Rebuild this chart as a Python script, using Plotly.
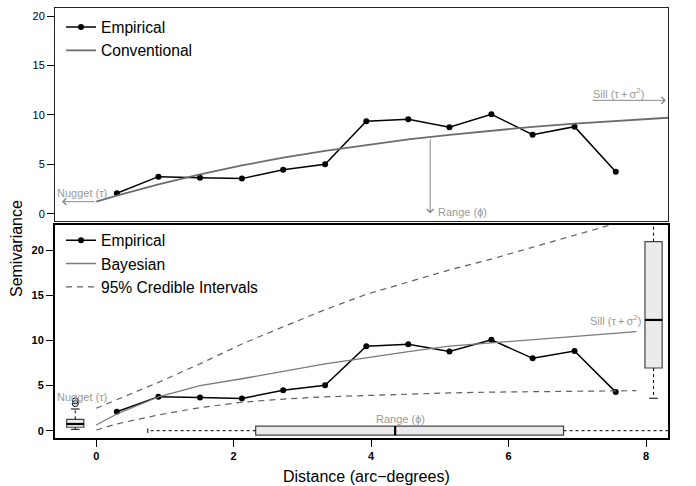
import plotly.graph_objects as go

# ---------------- data ----------------
dist = [0.30, 0.905, 1.51, 2.12, 2.72, 3.33, 3.93, 4.54, 5.14, 5.75, 6.35, 6.96, 7.56]
emp = [2.09, 3.77, 3.67, 3.57, 4.47, 5.02, 9.36, 9.56, 8.76, 10.07, 8.01, 8.82, 4.27]

conv_x = [0, 0.30, 0.905, 1.51, 2.12, 2.72, 3.33, 3.93, 4.54, 5.14, 5.75, 6.35, 6.96, 7.56, 8.5]
conv_y = [1.24, 1.86, 3.00, 4.01, 4.90, 5.68, 6.38, 6.98, 7.53, 8.00, 8.43, 8.80, 9.13, 9.41, 9.80]

bayes_x = [0, 0.30, 0.905, 1.51, 2.12, 2.72, 3.33, 3.93, 4.54, 5.14, 5.75, 6.35, 6.96, 7.56, 7.86]
bayes_y = [0.63, 1.85, 3.75, 4.98, 5.75, 6.60, 7.40, 8.05, 8.76, 9.36, 9.72, 10.07, 10.43, 10.78, 10.96]
ci_upper = [2.48, 3.45, 5.35, 7.40, 9.60, 11.5, 13.4, 15.1, 16.5, 17.8, 19.0, 20.3, 21.7, 23.0, 23.6]
ci_lower = [0.08, 0.75, 1.75, 2.55, 3.15, 3.50, 3.75, 3.92, 4.07, 4.18, 4.27, 4.33, 4.38, 4.42, 4.43]

# conventional fit parameters
conv_nugget = 1.24
conv_range = 4.86
conv_range_gamma = 7.70
conv_sill = 11.48

# posterior boxplots: [lower whisker, q1, median, q3, upper whisker]
nugget_stats = [0.15, 0.38, 0.74, 1.26, 2.40]
nugget_outliers = [3.0, 3.3]
nugget_pos = -0.305
sill_stats = [3.59, 6.94, 12.26, 20.93, 30.0]
sill_pos = 8.11
range_stats = [0.75, 2.32, 4.35, 6.80, 10.0]
range_pos = 0.0

yticks = [0, 5, 10, 15, 20]
xticks = [0, 2, 4, 6, 8]

# ---------------- styles ----------------
FONT = "Liberation Sans, Arial, sans-serif"
GRAY_TXT = "#9a9a9a"
GRAY_ARROW = "#8a8a8a"
BOX_FILL = "#ebebeb"
BOX_LINE = "#444444"
VBOX_W = 0.25
HBOX_W = 1.0

fig = go.Figure()

# ---- top panel (x2, y2) ----
fig.add_trace(go.Scatter(x=dist, y=emp, mode="lines+markers", name="Empirical",
                         line=dict(color="black", width=1.5), marker=dict(size=6, color="black"),
                         xaxis="x2", yaxis="y2", legend="legend"))
fig.add_trace(go.Scatter(x=conv_x, y=conv_y, mode="lines", name="Conventional",
                         line=dict(color="#6c6c6c", width=1.8),
                         xaxis="x2", yaxis="y2", legend="legend"))

# ---- bottom panel (x, y) ----
fig.add_trace(go.Scatter(x=dist, y=emp, mode="lines+markers", name="Empirical",
                         line=dict(color="black", width=1.5), marker=dict(size=6, color="black"),
                         xaxis="x", yaxis="y", legend="legend2"))
fig.add_trace(go.Scatter(x=bayes_x, y=bayes_y, mode="lines", name="Bayesian",
                         line=dict(color="#7a7a7a", width=1.3),
                         xaxis="x", yaxis="y", legend="legend2"))
fig.add_trace(go.Scatter(x=bayes_x, y=ci_upper, mode="lines", name="95% Credible Intervals",
                         line=dict(color="#606060", width=1.2, dash="6px,5px"),
                         xaxis="x", yaxis="y", legend="legend2"))
fig.add_trace(go.Scatter(x=bayes_x, y=ci_lower, mode="lines", showlegend=False,
                         line=dict(color="#606060", width=1.2, dash="6px,5px"),
                         xaxis="x", yaxis="y"))


def vbox(pos, st, outliers=None):
    lo, q1, med, q3, hi = st
    fig.add_trace(go.Box(x=[pos], q1=[q1], median=[med], q3=[q3], lowerfence=[q1], upperfence=[q3],
                         width=VBOX_W, whiskerwidth=0, fillcolor=BOX_FILL,
                         line=dict(color=BOX_LINE, width=1.2), orientation="v",
                         showlegend=False, hoverinfo="skip", xaxis="x", yaxis="y"))
    # median (bold)
    fig.add_trace(go.Scatter(x=[pos - VBOX_W / 2, pos + VBOX_W / 2], y=[med, med], mode="lines",
                             line=dict(color="black", width=2.2), showlegend=False, xaxis="x", yaxis="y"))
    # whiskers
    for a, b in ((q3, hi), (q1, lo)):
        fig.add_trace(go.Scatter(x=[pos, pos], y=[a, b], mode="lines",
                                 line=dict(color="black", width=1, dash="dot"),
                                 showlegend=False, xaxis="x", yaxis="y"))
        fig.add_trace(go.Scatter(x=[pos - VBOX_W / 4, pos + VBOX_W / 4], y=[b, b], mode="lines",
                                 line=dict(color="black", width=1),
                                 showlegend=False, xaxis="x", yaxis="y"))
    if outliers:
        fig.add_trace(go.Scatter(x=[pos] * len(outliers), y=outliers, mode="markers",
                                 marker=dict(symbol="circle-open", size=6, color="black", line=dict(width=1)),
                                 showlegend=False, xaxis="x", yaxis="y"))


def hbox(pos, st):
    lo, q1, med, q3, hi = st
    fig.add_trace(go.Box(y=[pos], q1=[q1], median=[med], q3=[q3], lowerfence=[q1], upperfence=[q3],
                         width=HBOX_W, whiskerwidth=0, fillcolor=BOX_FILL,
                         line=dict(color=BOX_LINE, width=1.2), orientation="h",
                         showlegend=False, hoverinfo="skip", xaxis="x", yaxis="y"))
    fig.add_trace(go.Scatter(x=[med, med], y=[pos - HBOX_W / 2, pos + HBOX_W / 2], mode="lines",
                             line=dict(color="black", width=2.2), showlegend=False, xaxis="x", yaxis="y"))
    for a, b in ((q3, hi), (q1, lo)):
        fig.add_trace(go.Scatter(x=[a, b], y=[pos, pos], mode="lines",
                                 line=dict(color="black", width=1, dash="dot"),
                                 showlegend=False, xaxis="x", yaxis="y"))
        fig.add_trace(go.Scatter(x=[b, b], y=[pos - HBOX_W / 4, pos + HBOX_W / 4], mode="lines",
                                 line=dict(color="black", width=1),
                                 showlegend=False, xaxis="x", yaxis="y"))


vbox(nugget_pos, nugget_stats, nugget_outliers)
vbox(sill_pos, sill_stats)
hbox(range_pos, range_stats)

# ---------------- annotations ----------------
ann = []
small = dict(family=FONT, size=11, color=GRAY_TXT)


def arrow(x, y, ax, ay, xr, yr):
    ann.append(dict(x=x, y=y, ax=ax, ay=ay, xref=xr, yref=yr, axref=xr, ayref=yr, text="",
                    showarrow=True, arrowhead=4, arrowsize=1.3, arrowwidth=1, arrowcolor=GRAY_ARROW,
                    standoff=0, startstandoff=0))


# top panel
arrow(-0.5, conv_nugget, 0, conv_nugget, "x2", "y2")
arrow(conv_range, 0.05, conv_range, conv_range_gamma, "x2", "y2")
arrow(8.29, conv_sill, 7.2, conv_sill, "x2", "y2")
ann.append(dict(x=-0.2, y=2.09, xref="x2", yref="y2", text="Nugget (τ)", showarrow=False, font=small))
ann.append(dict(x=4.94, y=0.2, xref="x2", yref="y2", text="Range (ϕ)", showarrow=False, font=small,
                xanchor="left"))
ann.append(dict(x=7.2, y=12.2, xref="x2", yref="y2", text="Sill (τ\u2009+\u2009σ<sup>2</sup>)",
                showarrow=False, font=small, xanchor="left"))
# bottom panel
ann.append(dict(x=-0.2, y=3.73, xref="x", yref="y", text="Nugget (τ)", showarrow=False, font=small))
ann.append(dict(x=4.43, y=1.3, xref="x", yref="y", text="Range (ϕ)", showarrow=False, font=small))
ann.append(dict(x=7.55, y=12.2, xref="x", yref="y", text="Sill (τ\u2009+\u2009σ<sup>2</sup>)",
                showarrow=False, font=small))
# axis titles
ann.append(dict(x=-0.0636, y=0.4395, xref="paper", yref="paper", text="Semivariance", textangle=-90,
                xanchor="center", yanchor="middle",
                showarrow=False, font=dict(family=FONT, size=16, color="black")))
ann.append(dict(x=0.5085, y=-0.09, xref="paper", yref="paper", text="Distance (arc\u2212degrees)",
                xanchor="center", yanchor="middle",
                showarrow=False, font=dict(family=FONT, size=16, color="black")))

XR = [-0.6, 8.32]
axis_common = dict(showgrid=False, zeroline=False, ticks="outside", ticklen=7, tickwidth=1,
                   tickcolor="black")

fig.update_layout(
    width=696, height=486,
    margin=dict(l=55, r=28, t=8, b=48),
    paper_bgcolor="white", plot_bgcolor="white",
    font=dict(family=FONT, size=11, color="black"),
    xaxis=dict(domain=[0, 1], anchor="y", range=XR, tickvals=xticks,
               tickfont=dict(family=FONT, size=11, color="black", weight="bold"),
               showline=True, mirror=True, linecolor="black", linewidth=2, **axis_common),
    yaxis=dict(domain=[0, 0.4953], anchor="x", range=[-0.81, 22.77], tickvals=yticks,
               tickfont=dict(family=FONT, size=11, color="black", weight="bold"),
               showline=True, mirror=True, linecolor="black", linewidth=2, **axis_common),
    yaxis3=dict(overlaying="y", side="right", anchor="x", range=[-0.81, 22.77], tickvals=yticks,
                tickfont=dict(family=FONT, size=11, color="black"), showline=False, **axis_common),
    xaxis2=dict(domain=[0, 1], anchor="y2", range=XR, showticklabels=False, ticks="",
                showgrid=False, zeroline=False, showline=True, mirror=True, linecolor="#222",
                linewidth=1),
    yaxis2=dict(domain=[0.5047, 1], anchor="x2", range=[-0.71, 20.81], tickvals=yticks,
                tickfont=dict(family=FONT, size=11, color="black"),
                showline=True, mirror=True, linecolor="#222", linewidth=1, **axis_common),
    yaxis4=dict(overlaying="y2", side="right", anchor="x2", range=[-0.71, 20.81], tickvals=yticks,
                tickfont=dict(family=FONT, size=11, color="black"), showline=False, **axis_common),
    legend=dict(x=0.0098, y=0.9944, xanchor="left", yanchor="top", bgcolor="rgba(0,0,0,0)",
                font=dict(family=FONT, size=15.6, color="black"), itemwidth=30, tracegroupgap=0),
    legend2=dict(x=0.0098, y=0.4986, xanchor="left", yanchor="top", bgcolor="rgba(0,0,0,0)",
                 font=dict(family=FONT, size=15.6, color="black"), itemwidth=30, tracegroupgap=0),
    annotations=ann,
    showlegend=True,
)

fig.write_html("out.html")
